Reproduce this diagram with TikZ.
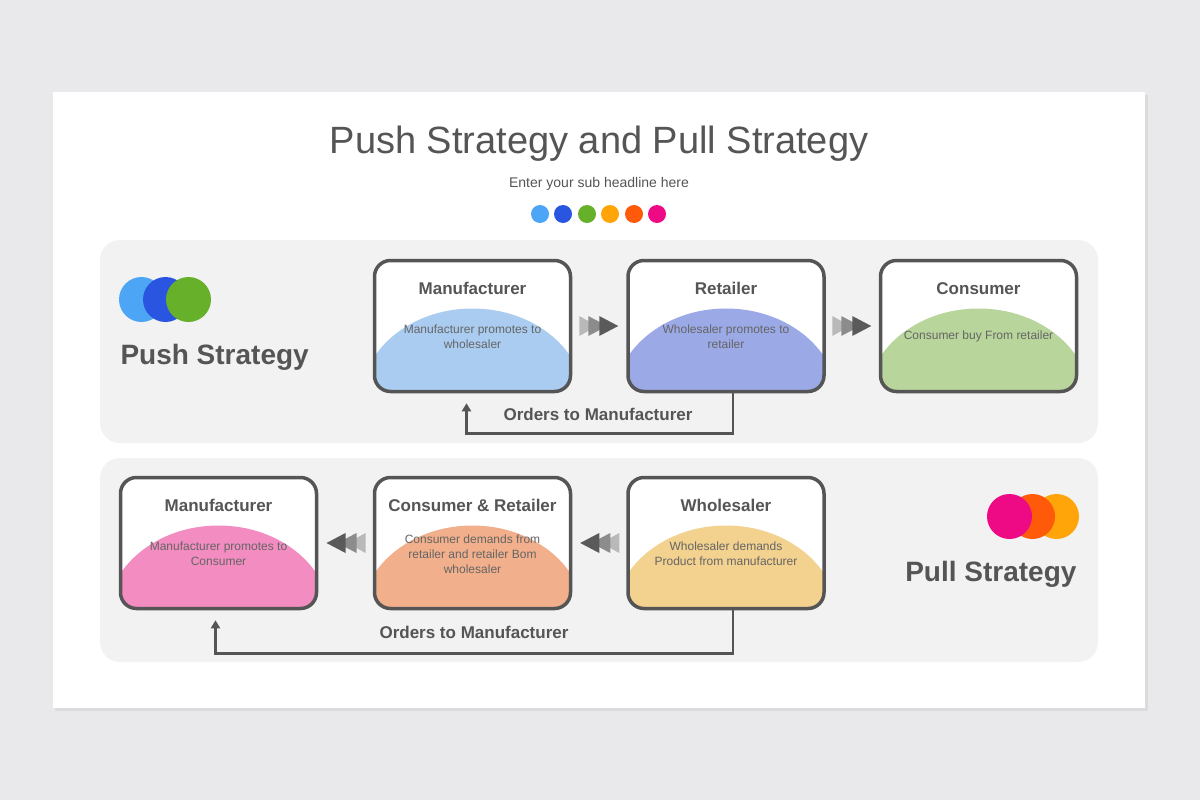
\documentclass[tikz,border=0pt]{standalone}
\usepackage{fontspec}
\setmainfont{Liberation Sans}
\usetikzlibrary{arrows.meta,calc}
\definecolor{pagebg}{HTML}{E9E8EA}
\definecolor{panelbg}{HTML}{F2F2F2}
\definecolor{boxline}{HTML}{555555}
\definecolor{txtdark}{HTML}{555555}
\definecolor{txtlight}{HTML}{656565}
\definecolor{dotA}{HTML}{4DA6F5}
\definecolor{dotB}{HTML}{2A55E0}
\definecolor{dotC}{HTML}{66B02A}
\definecolor{dotD}{HTML}{FFA50A}
\definecolor{dotE}{HTML}{FF5A0A}
\definecolor{dotF}{HTML}{EF0A85}
\definecolor{domeblue}{HTML}{AACCF1}
\definecolor{domeviolet}{HTML}{9BAAE7}
\definecolor{domegreen}{HTML}{B8D59C}
\definecolor{domepink}{HTML}{F28CC1}
\definecolor{domesalmon}{HTML}{F2AF8B}
\definecolor{domesand}{HTML}{F3D18F}
\definecolor{arrowA}{HTML}{B9B9B9}
\definecolor{arrowB}{HTML}{8C8C8C}
\definecolor{arrowC}{HTML}{5A5A5A}
\tikzset{
  stagebox/.style={draw=boxline, line width=3.5pt, rounded corners=16pt, fill=white,
    minimum width=196pt, minimum height=131pt, inner sep=0pt,
    path picture={\fill[#1] ([yshift=-10pt]path picture bounding box.south) ellipse [x radius=112pt, y radius=93pt];}},
  stagetitle/.style={text=txtdark, font=\bfseries\fontsize{17}{20}\selectfont},
  stagetext/.style={text=txtlight, align=center, font=\fontsize{12}{15}\selectfont},
  dot/.style={circle, inner sep=0pt, minimum size=18pt},
  bigdot/.style={circle, inner sep=0pt, minimum size=45pt},
  sidelabel/.style={text=txtdark, font=\bfseries\fontsize{28}{32}\selectfont},
  orderlabel/.style={text=txtdark, font=\bfseries\fontsize{17}{20}\selectfont},
  orderline/.style={draw=boxline, line width=2.5pt, -{Triangle[length=8pt,width=9pt]}},
  pics/fastfwd/.style={code={
    \fill[arrowA] (-20,-10) -- (-2,0) -- (-20,10) -- cycle;
    \fill[arrowB] (-11,-10) -- (8,0) -- (-11,10) -- cycle;
    \fill[arrowC] (0,-10) -- (19,0) -- (0,10) -- cycle;}}
}
\begin{document}
\begin{tikzpicture}[x=1pt, y=-1pt]
\useasboundingbox (0,0) rectangle (1200,800);
\fill[pagebg] (0,0) rectangle (1200,800);
\fill[black, opacity=0.06] (55,95) rectangle (1148,711);
\fill[white] (53,92) rectangle (1145,708);
\node[text=txtdark, font=\fontsize{38}{44}\selectfont] (title) at (599,144) {Push Strategy and Pull Strategy};
\node[text=txtdark, font=\fontsize{14}{16}\selectfont] (subtitle) at (599,184) {Enter your sub headline here};
\node[dot, fill=dotA] (d1) at (540,214) {};
\node[dot, fill=dotB] (d2) at (563,214) {};
\node[dot, fill=dotC] (d3) at (587,214) {};
\node[dot, fill=dotD] (d4) at (610,214) {};
\node[dot, fill=dotE] (d5) at (634,214) {};
\node[dot, fill=dotF] (d6) at (657,214) {};
\fill[panelbg, rounded corners=20pt] (100,240) rectangle (1098,443);
\fill[panelbg, rounded corners=20pt] (100,458) rectangle (1098,662);
\node[bigdot, fill=dotA] (pa) at (141.5,299.5) {};
\node[bigdot, fill=dotB] (pb) at (165.5,299.5) {};
\node[bigdot, fill=dotC] (pc) at (188.5,299.5) {};
\node[sidelabel, anchor=west] (push) at (117,357) {Push Strategy};
\node[bigdot, fill=dotD] (qa) at (1056.5,516.5) {};
\node[bigdot, fill=dotE] (qb) at (1032.5,516.5) {};
\node[bigdot, fill=dotF] (qc) at (1009.5,516.5) {};
\node[sidelabel, anchor=east] (pull) at (1080,574) {Pull Strategy};
\node[stagebox=domeblue] (m1) at (472.5,326) {};
\node[stagebox=domeviolet] (r1) at (726,326) {};
\node[stagebox=domegreen] (k1) at (978.5,326) {};
\node[stagetitle] (m1t) at ([yshift=-30pt]m1.north) {Manufacturer};
\node[stagetitle] (r1t) at ([yshift=-30pt]r1.north) {Retailer};
\node[stagetitle] (k1t) at ([yshift=-30pt]k1.north) {Consumer};
\node[stagetext] (m1d) at ([yshift=-78pt]m1.north) {Manufacturer promotes to\\wholesaler};
\node[stagetext] (r1d) at ([yshift=-78pt]r1.north) {Wholesaler promotes to\\retailer};
\node[stagetext] (k1d) at ([yshift=-78pt]k1.north) {Consumer buy From retailer};
\pic at ($(m1.east)!0.5!(r1.west)$) {fastfwd};
\pic at ($(r1.east)!0.5!(k1.west)$) {fastfwd};
\draw[orderline] ([xshift=7pt]r1.south) -- ++(0,40) -| ([xshift=-6pt,yshift=-10pt]m1.south);
\node[orderlabel] (o1) at (598,414) {Orders to Manufacturer};
\node[stagebox=domepink] (m2) at (218.5,543) {};
\node[stagebox=domesalmon] (c2) at (472.5,543) {};
\node[stagebox=domesand] (w2) at (726,543) {};
\node[stagetitle] (m2t) at ([yshift=-30pt]m2.north) {Manufacturer};
\node[stagetitle] (c2t) at ([yshift=-30pt]c2.north) {Consumer \& Retailer};
\node[stagetitle] (w2t) at ([yshift=-30pt]w2.north) {Wholesaler};
\node[stagetext] (m2d) at ([yshift=-78pt]m2.north) {Manufacturer promotes to\\Consumer};
\node[stagetext] (c2d) at ([yshift=-78pt]c2.north) {Consumer demands from\\retailer and retailer Bom\\wholesaler};
\node[stagetext] (w2d) at ([yshift=-78pt]w2.north) {Wholesaler demands\\Product from manufacturer};
\pic[xscale=-1] at ($(m2.east)!0.5!(c2.west)$) {fastfwd};
\pic[xscale=-1] at ($(c2.east)!0.5!(w2.west)$) {fastfwd};
\draw[orderline] ([xshift=7pt]w2.south) -- ++(0,43) -| ([xshift=-3pt,yshift=-10pt]m2.south);
\node[orderlabel] (o2) at (474,632) {Orders to Manufacturer};
\end{tikzpicture}
\end{document}
